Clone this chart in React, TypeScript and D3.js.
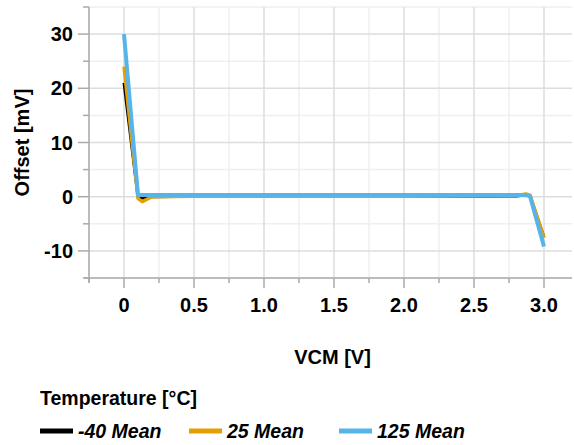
import React from "react";
import * as d3 from "d3";

const vcm = [0, 0.1, 0.13, 0.2, 0.5, 1.0, 1.5, 2.0, 2.5, 2.8, 2.87, 2.9, 3.0];
const tempM40 = [21, 0.0, -0.3, 0.0, 0.1, 0.1, 0.1, 0.1, 0.1, 0.15, 0.3, 0.1, -7.5];
const temp25 = [24, -0.3, -0.9, 0.0, 0.1, 0.1, 0.1, 0.1, 0.15, 0.2, 0.5, 0.3, -7.6];
const temp125 = [30, 0.3, 0.3, 0.3, 0.3, 0.3, 0.3, 0.3, 0.3, 0.3, 0.3, 0.1, -9.2];

const seriesNames = ["-40 Mean", "25 Mean", "125 Mean"];
const seriesColors = ["#000000", "#E69F00", "#56B4E9"];
const seriesWidths = [3, 3.5, 4];
const seriesData = [tempM40, temp25, temp125];

const xMajorTicks = [0, 0.5, 1.0, 1.5, 2.0, 2.5, 3.0];
const xTickLabels = ["0", "0.5", "1.0", "1.5", "2.0", "2.5", "3.0"];
const xMinorTicks = [-0.25, 0.25, 0.75, 1.25, 1.75, 2.25, 2.75];
const yMajorTicks = [-10, 0, 10, 20, 30];
const yMinorTicks = [-15, -5, 5, 15, 25, 35];

const W = 574;
const H = 445;
const left = 89;
const right = 572;
const top = 7;
const bottom = 278;
const font = "Liberation Sans, Arial, sans-serif";
const fs = 20;

export default function App() {
  const x = d3.scaleLinear().domain([-0.25, 3.2]).range([left, right]);
  const y = d3.scaleLinear().domain([-15, 35]).range([bottom, top]);
  const line = d3
    .line<number>()
    .x((_, i) => x(vcm[i]))
    .y((d) => y(d));

  return (
    <svg width={W} height={H} style={{ position: "absolute", left: 0, top: 0 }} fontFamily={font}>
      {xMinorTicks.map((t) => (
        <line key={"xm" + t} x1={x(t)} x2={x(t)} y1={top} y2={bottom} stroke="#efefef" strokeWidth={1.5} />
      ))}
      {yMinorTicks.map((t) => (
        <line key={"ym" + t} x1={left} x2={right} y1={y(t)} y2={y(t)} stroke="#efefef" strokeWidth={1.5} />
      ))}
      {xMajorTicks.map((t) => (
        <line key={"xM" + t} x1={x(t)} x2={x(t)} y1={top} y2={bottom} stroke="#dddddd" strokeWidth={1.5} />
      ))}
      {yMajorTicks.map((t) => (
        <line key={"yM" + t} x1={left} x2={right} y1={y(t)} y2={y(t)} stroke="#dddddd" strokeWidth={1.5} />
      ))}
      <line x1={left} x2={left} y1={top} y2={bottom + 5} stroke="#aaaaaa" strokeWidth={1.5} />
      <line x1={left - 5} x2={right} y1={bottom} y2={bottom} stroke="#aaaaaa" strokeWidth={1.5} />
      {xMajorTicks.map((t) => (
        <line key={"xt" + t} x1={x(t)} x2={x(t)} y1={bottom} y2={bottom + 10} stroke="#aaaaaa" strokeWidth={1.5} />
      ))}
      {xMinorTicks.map((t) => (
        <line key={"xmt" + t} x1={x(t)} x2={x(t)} y1={bottom} y2={bottom + 5} stroke="#aaaaaa" strokeWidth={1.5} />
      ))}
      {yMajorTicks.map((t) => (
        <line key={"yt" + t} x1={left - 11} x2={left} y1={y(t)} y2={y(t)} stroke="#aaaaaa" strokeWidth={1.5} />
      ))}
      {yMinorTicks.map((t) => (
        <line key={"ymt" + t} x1={left - 6} x2={left} y1={y(t)} y2={y(t)} stroke="#aaaaaa" strokeWidth={1.5} />
      ))}
      {xMajorTicks.map((t, i) => (
        <text key={"xl" + t} x={x(t)} y={312} textAnchor="middle" fontSize={fs} fontWeight="bold" fill="#000">
          {xTickLabels[i]}
        </text>
      ))}
      {yMajorTicks.map((t) => (
        <text key={"yl" + t} x={73} y={y(t) + 7} textAnchor="end" fontSize={fs} fontWeight="bold" fill="#000">
          {t}
        </text>
      ))}
      <text x={(left + right) / 2 + 2} y={364} textAnchor="middle" fontSize={fs} fontWeight="bold">
        VCM [V]
      </text>
      <text
        transform={`translate(${29},${(top + bottom) / 2}) rotate(-90)`}
        textAnchor="middle"
        fontSize={fs}
        fontWeight="bold"
      >
        Offset [mV]
      </text>
      {seriesData.map((s, i) => (
        <path
          key={seriesNames[i]}
          d={line(s) || ""}
          fill="none"
          stroke={seriesColors[i]}
          strokeWidth={seriesWidths[i]}
          strokeLinejoin="round"
        />
      ))}
      <text x={40} y={405} fontSize={19.5} fontWeight="bold">
        Temperature [°C]
      </text>
      {seriesNames.map((n, i) => {
        const lx = [40, 189, 339][i];
        return (
          <g key={"lg" + n}>
            <line x1={lx} x2={lx + 33} y1={431} y2={431} stroke={seriesColors[i]} strokeWidth={5} />
            <text x={lx + 38} y={437.5} fontSize={19.5} fontWeight="bold" fontStyle="italic">
              {n}
            </text>
          </g>
        );
      })}
    </svg>
  );
}
